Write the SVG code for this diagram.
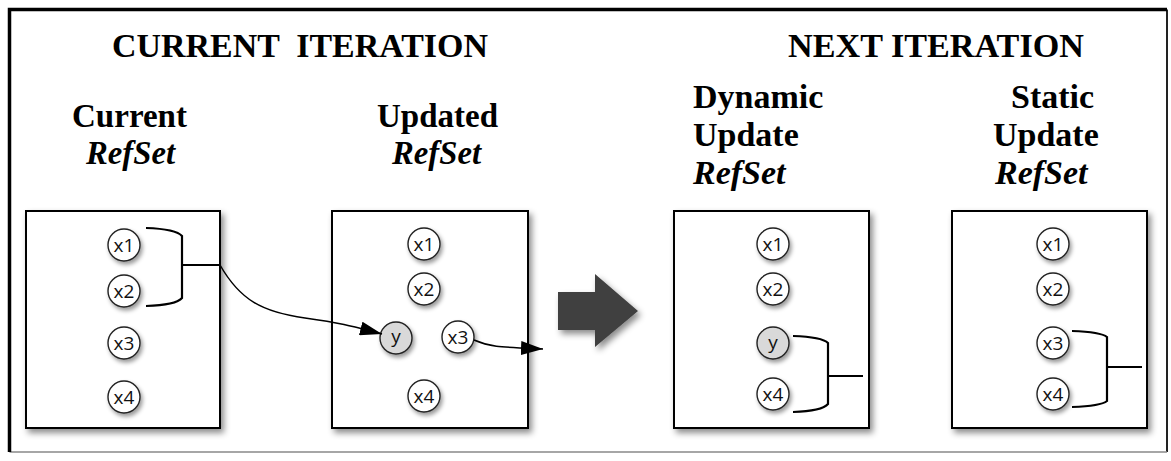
<svg xmlns="http://www.w3.org/2000/svg" width="1171" height="461" viewBox="0 0 1171 461">
<defs>
<style>
.ttl{font-family:"Liberation Serif","Times New Roman",serif;font-weight:bold;font-size:34px;fill:#000}
.it{font-style:italic}
.box{fill:#fff;stroke:#000;stroke-width:2}
.nd{fill:#fff;stroke:#222;stroke-width:1.4}
.ny{fill:#d9d9d9;stroke:#222;stroke-width:1.4}
.lb{font-family:"Open Sans","DejaVu Sans",sans-serif;font-size:19px;fill:#111;text-anchor:middle}
.br{fill:none;stroke:#000;stroke-width:2.2}
.cn{fill:none;stroke:#000;stroke-width:1.5}
</style>
<filter id="sh" x="-20%" y="-20%" width="140%" height="140%">
<feDropShadow dx="3" dy="4" stdDeviation="3" flood-color="#000" flood-opacity="0.45"/>
</filter>
<filter id="shc" x="-40%" y="-40%" width="180%" height="180%">
<feDropShadow dx="2" dy="3" stdDeviation="2" flood-color="#000" flood-opacity="0.4"/>
</filter>
<marker id="ah" viewBox="0 0 22 14" refX="22" refY="7" markerWidth="22" markerHeight="14" markerUnits="userSpaceOnUse" orient="auto">
<path d="M0,0 L22,7 L0,14 Z" fill="#000"/>
</marker>
</defs>
<rect x="0" y="0" width="1171" height="461" fill="#fff"/>
<g id="frame">
<path d="M1167,9.5 V452" fill="none" stroke="#222" stroke-width="2"/>
<path d="M9.5,452 H1167" fill="none" stroke="#888" stroke-width="1.5"/>
<path d="M9.5,452 V9.5 H1167" fill="none" stroke="#000" stroke-width="3.5"/>
</g>
<g id="titles">
<text class="ttl" x="112" y="57" textLength="376" lengthAdjust="spacingAndGlyphs" xml:space="preserve">CURRENT  ITERATION</text>
<text class="ttl" x="788" y="57" textLength="296" lengthAdjust="spacingAndGlyphs">NEXT ITERATION</text>
</g>
<g id="box1">
<text class="ttl" x="72" y="127" textLength="115" lengthAdjust="spacingAndGlyphs">Current</text>
<text class="ttl it" x="86" y="164" textLength="89" lengthAdjust="spacingAndGlyphs">RefSet</text>
<rect class="box" x="26" y="211" width="194" height="217" filter="url(#sh)"/>
<g filter="url(#shc)">
<circle class="nd" cx="124" cy="245" r="16"/>
<circle class="nd" cx="124" cy="291" r="16"/>
<circle class="nd" cx="124" cy="343" r="16"/>
<circle class="nd" cx="124" cy="397" r="16"/>
</g>
<text class="lb" x="124" y="251.5">x1</text>
<text class="lb" x="124" y="297.5">x2</text>
<text class="lb" x="124" y="349.5">x3</text>
<text class="lb" x="124" y="403.5">x4</text>
<path class="br" d="M146,228 Q176,229 182,236 L182,298 Q176,305 146,306"/>
<path class="br" d="M182,265 H220"/>
</g>
<g id="box2">
<text class="ttl" x="377" y="127" textLength="121" lengthAdjust="spacingAndGlyphs">Updated</text>
<text class="ttl it" x="392" y="164" textLength="89" lengthAdjust="spacingAndGlyphs">RefSet</text>
<rect class="box" x="332" y="211" width="196" height="217" filter="url(#sh)"/>
<g filter="url(#shc)">
<circle class="nd" cx="424" cy="244" r="16"/>
<circle class="nd" cx="424" cy="289" r="16"/>
<circle class="ny" cx="396" cy="338" r="16"/>
<circle class="nd" cx="458" cy="337" r="16"/>
<circle class="nd" cx="424" cy="396" r="16"/>
</g>
<text class="lb" x="424" y="250.5">x1</text>
<text class="lb" x="424" y="295.5">x2</text>
<text class="lb" x="396" y="343">y</text>
<text class="lb" x="458" y="343.5">x3</text>
<text class="lb" x="424" y="402.5">x4</text>
</g>
<g id="bigarrow">
<polygon points="558,292 595,292 595,274 638,311 595,347 595,330 558,330" fill="#404040" filter="url(#sh)"/>
</g>
<g id="box3">
<text class="ttl" x="693" y="108">Dynamic</text>
<text class="ttl" x="693" y="146">Update</text>
<text class="ttl it" x="693" y="184">RefSet</text>
<rect class="box" x="674" y="211" width="195" height="217" filter="url(#sh)"/>
<g filter="url(#shc)">
<circle class="nd" cx="773" cy="244" r="16"/>
<circle class="nd" cx="773" cy="289" r="16"/>
<circle class="ny" cx="773" cy="343" r="16"/>
<circle class="nd" cx="773" cy="394" r="16"/>
</g>
<text class="lb" x="773" y="250.5">x1</text>
<text class="lb" x="773" y="295.5">x2</text>
<text class="lb" x="773" y="349">y</text>
<text class="lb" x="773" y="400.5">x4</text>
<path class="br" d="M793,336 Q822,337 828,343 L828,404 Q822,411 793,412"/>
<path class="br" d="M828,376 H863"/>
</g>
<g id="box4">
<text class="ttl" x="1011" y="108">Static</text>
<text class="ttl" x="993" y="146">Update</text>
<text class="ttl it" x="995" y="184">RefSet</text>
<rect class="box" x="952" y="211" width="195" height="217" filter="url(#sh)"/>
<g filter="url(#shc)">
<circle class="nd" cx="1053" cy="244" r="16"/>
<circle class="nd" cx="1053" cy="289" r="16"/>
<circle class="nd" cx="1053" cy="343" r="16"/>
<circle class="nd" cx="1053" cy="394" r="16"/>
</g>
<text class="lb" x="1053" y="250.5">x1</text>
<text class="lb" x="1053" y="295.5">x2</text>
<text class="lb" x="1053" y="349.5">x3</text>
<text class="lb" x="1053" y="400.5">x4</text>
<path class="br" d="M1072,331 Q1101,332 1107,337 L1107,401 Q1101,406 1072,407"/>
<path class="br" d="M1107,367 H1142"/>
</g>
<g id="connectors">
<path class="cn" d="M220,265 C240,300 262,312 305,318 S355,327 382,334" marker-end="url(#ah)"/>
<path class="cn" d="M474,340 C490,347 500,347 543,349" marker-end="url(#ah)"/>
</g>
</svg>
